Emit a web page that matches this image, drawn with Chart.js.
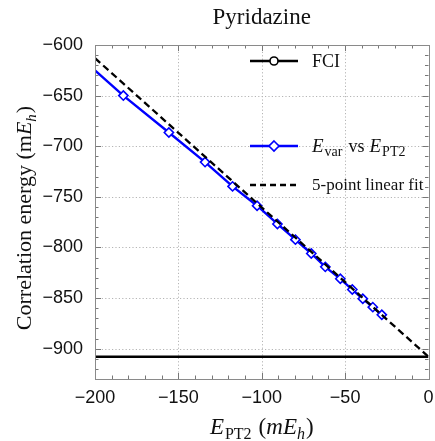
<!DOCTYPE html>
<html><head><meta charset="utf-8">
<script src="https://cdn.jsdelivr.net/npm/chart.js@4/dist/chart.umd.min.js"></script>
<style>html,body{margin:0;padding:0;background:#fff;}#wrap{width:435px;height:441px;}</style>
</head><body><div id="wrap"><canvas id="c" width="435" height="441"></canvas></div>
<script>
// ---- data ----
const ept2 = [-200, -183, -155.7, -134, -117.5, -102.8, -90.6, -79.8, -70.3, -61.9, -52.9, -45.7, -39.4, -33.4, -28];
const evar = [-625, -650, -686.5, -715.7, -739.7, -758.8, -776.8, -792.3, -806, -819.2, -831, -841.6, -850.8, -859, -866.6];
const fitX = [-200, 0];
const fitY = [-613, -908];
const fciEnergy = -908;
const fciX = [-200, 0];
const xTicks = [-200, -150, -100, -50, 0];
const yTicks = [-600, -650, -700, -750, -800, -850, -900];
const xMinor = 10, yMinor = 10;
const titleText = 'Pyridazine';

const SERIF = '"Liberation Serif", "DejaVu Serif", serif';
const SANS = '"Liberation Sans", Arial, sans-serif';
const BLUE = '#0000ff';

function fmt(v){ return v < 0 ? '\u2212' + Math.abs(v) : String(v); }

function drawParts(ctx, parts, x, y){
  let cx = x;
  for (const p of parts){
    ctx.font = p[1];
    ctx.fillText(p[0], cx, y + (p[2]||0));
    cx += ctx.measureText(p[0]).width + (p[3]||0);
  }
  return cx - x;
}
function partsWidth(ctx, parts){
  let w = 0;
  for (const p of parts){ ctx.font = p[1]; w += ctx.measureText(p[0]).width + (p[3]||0); }
  return w;
}

const framePlugin = {
  id: 'frame',
  beforeDatasetsDraw(chart){
    const {ctx, chartArea: a, scales: {x, y}} = chart;
    ctx.save();
    ctx.strokeStyle = '#b5b5b5'; ctx.lineWidth = 1; ctx.setLineDash([1.2, 2.2]);
    for (const v of xTicks){ const px = Math.round(x.getPixelForValue(v))+0.5; ctx.beginPath(); ctx.moveTo(px, a.top); ctx.lineTo(px, a.bottom); ctx.stroke(); }
    for (const v of yTicks){ const py = Math.round(y.getPixelForValue(v))+0.5; ctx.beginPath(); ctx.moveTo(a.left, py); ctx.lineTo(a.right, py); ctx.stroke(); }
    ctx.setLineDash([]);
    ctx.strokeStyle = '#777'; ctx.lineWidth = 1;
    for (let v = x.min; v <= x.max + 1e-9; v += xMinor){
      const major = xTicks.includes(Math.round(v));
      const L = major ? 6 : 3.5;
      const px = Math.round(x.getPixelForValue(v))+0.5;
      ctx.beginPath(); ctx.moveTo(px, a.bottom); ctx.lineTo(px, a.bottom - L); ctx.moveTo(px, a.top); ctx.lineTo(px, a.top + L); ctx.stroke();
    }
    for (let v = -600; v >= y.min - 1e-9; v -= yMinor){
      const major = yTicks.includes(Math.round(v));
      const L = major ? 6 : 3.5;
      const py = Math.round(y.getPixelForValue(v))+0.5;
      ctx.beginPath(); ctx.moveTo(a.left, py); ctx.lineTo(a.left + L, py); ctx.moveTo(a.right, py); ctx.lineTo(a.right - L, py); ctx.stroke();
    }
    ctx.restore();
  },
  afterDraw(chart){
    const {ctx, chartArea: a} = chart;
    ctx.save();
    ctx.strokeStyle = '#8a8a8a'; ctx.lineWidth = 1;
    ctx.strokeRect(Math.round(a.left)+0.5, Math.round(a.top)+0.5, Math.round(a.right - a.left), Math.round(a.bottom - a.top));
    ctx.fillStyle = '#111'; ctx.textBaseline = 'alphabetic';
    ctx.font = '23px ' + SERIF; ctx.textAlign = 'center';
    ctx.fillText(titleText, (a.left + a.right)/2, 24);
    ctx.textAlign = 'left';
    const xt = [['E', 'italic 23px ' + SERIF, 0, 1], ['PT2', '16px ' + SERIF, 5, 7], ['(', '23px ' + SERIF], ['mE', 'italic 23px ' + SERIF], ['h', 'italic 16px ' + SERIF, 5, 1], [')', '23px ' + SERIF]];
    const xw = partsWidth(ctx, xt);
    drawParts(ctx, xt, (a.left + a.right)/2 - xw/2, 434);
    const yt = [['Correlation energy (m', '22px ' + SERIF], ['E', 'italic 22px ' + SERIF], ['h', 'italic 15px ' + SERIF, 5, 1], [')', '22px ' + SERIF]];
    const yw = partsWidth(ctx, yt);
    ctx.save(); ctx.translate(31, 218); ctx.rotate(-Math.PI/2);
    drawParts(ctx, yt, -yw/2, 0);
    ctx.restore();
    const lx0 = 250, lx1 = 298, tx = 312;
    const rows = [61, 146, 185];
    ctx.lineWidth = 2.5;
    ctx.strokeStyle = '#000'; ctx.beginPath(); ctx.moveTo(lx0, rows[0]); ctx.lineTo(lx1, rows[0]); ctx.stroke();
    ctx.fillStyle = '#fff'; ctx.lineWidth = 1.6; ctx.beginPath(); ctx.arc((lx0+lx1)/2, rows[0], 4, 0, Math.PI*2); ctx.fill(); ctx.stroke();
    ctx.lineWidth = 2.5; ctx.strokeStyle = BLUE; ctx.beginPath(); ctx.moveTo(lx0, rows[1]); ctx.lineTo(lx1, rows[1]); ctx.stroke();
    const cx = (lx0+lx1)/2, r = 5;
    ctx.lineWidth = 1.6; ctx.beginPath(); ctx.moveTo(cx, rows[1]-r); ctx.lineTo(cx+r, rows[1]); ctx.lineTo(cx, rows[1]+r); ctx.lineTo(cx-r, rows[1]); ctx.closePath(); ctx.fill(); ctx.stroke();
    ctx.strokeStyle = '#000'; ctx.lineWidth = 2.5; ctx.setLineDash([6, 4]);
    ctx.beginPath(); ctx.moveTo(lx0, rows[2]); ctx.lineTo(lx1, rows[2]); ctx.stroke(); ctx.setLineDash([]);
    ctx.fillStyle = '#111';
    ctx.font = '18px ' + SERIF; ctx.fillText('FCI', tx, rows[0] + 6);
    drawParts(ctx, [['E', 'italic 19px ' + SERIF, 0, 1], ['var', '14px ' + SERIF, 4, 6], ['vs', '18px ' + SERIF, 0, 5], ['E', 'italic 19px ' + SERIF, 0, 1], ['PT2', '14px ' + SERIF, 4]], tx, rows[1] + 6);
    ctx.font = '17px ' + SERIF; ctx.fillText('5-point linear fit', tx, rows[2] + 5);
    ctx.restore();
  }
};

new Chart(document.getElementById('c'), {
  type: 'scatter',
  data: {
    datasets: [
      { label: 'E_var vs E_PT2', data: ept2.map((v, i) => ({x: v, y: evar[i]})), showLine: true,
        borderColor: BLUE, borderWidth: 2.4, pointStyle: 'rectRot',
        pointRadius: ept2.map((v, i) => i === 0 ? 0 : 4.6), pointBackgroundColor: '#fff', pointBorderColor: BLUE, pointBorderWidth: 1.6, order: 1 },
      { label: '5-point linear fit', data: fitX.map((v, i) => ({x: v, y: fitY[i]})), showLine: true,
        borderColor: '#000', borderWidth: 2.3, borderDash: [7, 4], pointRadius: 0, order: 0 },
      { label: 'FCI', data: fciX.map(v => ({x: v, y: fciEnergy})), showLine: true,
        borderColor: '#000', borderWidth: 2.6, pointRadius: 0, order: 2 }
    ]
  },
  options: {
    responsive: false, animation: false, devicePixelRatio: 1,
    layout: { padding: { top: 45, right: 6.5, left: 0, bottom: 0 } },
    plugins: { legend: { display: false }, tooltip: { enabled: false }, title: { display: false } },
    scales: {
      x: { type: 'linear', min: -200, max: 0,
        afterFit: s => { s.height = 62; s.paddingLeft = 0; s.paddingRight = 0; },
        afterBuildTicks: s => { s.ticks = xTicks.map(v => ({value: v})); },
        grid: { display: false, drawTicks: false }, border: { display: false },
        ticks: { padding: 8, color: '#111', font: { family: SANS, size: 18 }, callback: v => fmt(v), maxRotation: 0 } },
      y: { type: 'linear', min: -930, max: -600,
        afterFit: s => { s.width = 95; s.paddingTop = 0; s.paddingBottom = 0; },
        afterBuildTicks: s => { s.ticks = yTicks.map(v => ({value: v})); },
        grid: { display: false, drawTicks: false }, border: { display: false },
        ticks: { padding: 12, color: '#111', font: { family: SANS, size: 18 }, callback: v => fmt(v) } }
    }
  },
  plugins: [framePlugin]
});
</script></body></html>
